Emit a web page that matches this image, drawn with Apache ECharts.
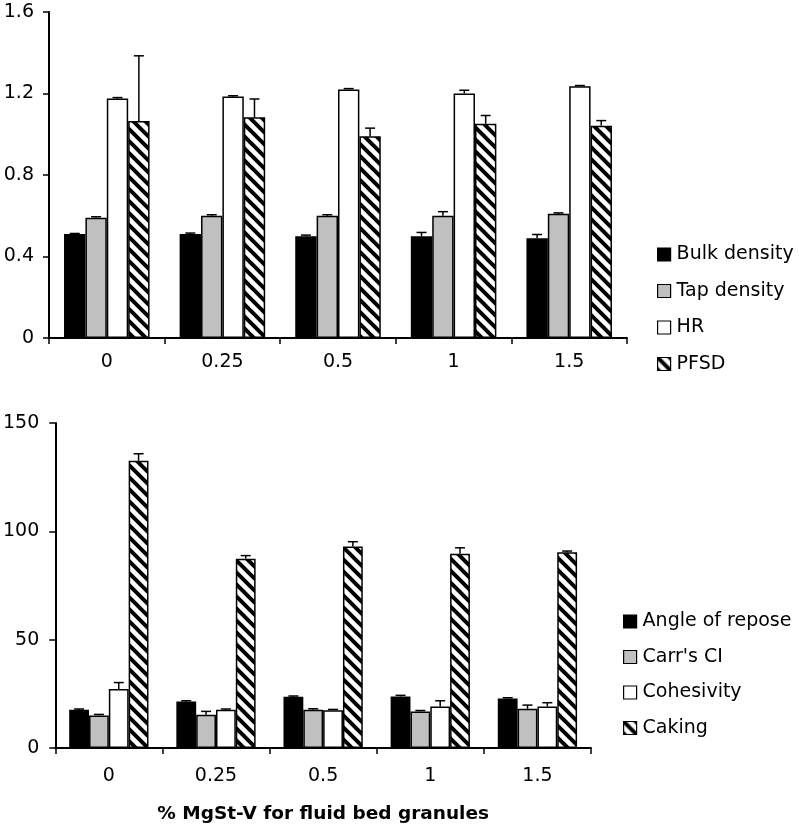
<!DOCTYPE html>
<html>
<head>
<meta charset="utf-8">
<script src="https://cdn.jsdelivr.net/npm/echarts@6/dist/echarts.min.js"></script>
<style>html,body{margin:0;padding:0;background:#fff}#c{width:799px;height:830px}</style>
</head>
<body>
<div id="c"></div>
<script>
// ---- data ----
const categories = ['0', '0.25', '0.5', '1', '1.5'];

const topNames = ['Bulk density', 'Tap density', 'HR', 'PFSD'];
const bulk = [0.51, 0.51, 0.50, 0.50, 0.49];
const bulkErr = [0.003, 0.005, 0.005, 0.018, 0.018];
const tap = [0.59, 0.60, 0.60, 0.60, 0.61];
const tapErr = [0.005, 0.005, 0.005, 0.02, 0.004];
const hr = [1.175, 1.185, 1.22, 1.20, 1.235];
const hrErr = [0.005, 0.004, 0.004, 0.016, 0.004];
const pfsd = [1.065, 1.083, 0.99, 1.052, 1.042];
const pfsdErr = [0.32, 0.09, 0.04, 0.04, 0.025];
const topTicks = {min: 0, max: 1.6, interval: 0.4};

const botNames = ['Angle of repose', "Carr's CI", 'Cohesivity', 'Caking'];
const angle = [17.7, 21.5, 23.7, 23.8, 22.9];
const angleErr = [0.3, 0.3, 0.3, 0.5, 0.3];
const carr = [15.0, 15.4, 17.7, 16.9, 18.1];
const carrErr = [0.5, 1.5, 0.4, 0.4, 1.7];
const coh = [27.2, 17.7, 17.4, 19.2, 19.2];
const cohErr = [3.0, 0.3, 0.4, 2.6, 1.7];
const caking = [132.6, 87.4, 93.0, 89.7, 90.4];
const cakingErr = [3.2, 1.4, 2.2, 2.7, 0.5];
const botTicks = {min: 0, max: 150, interval: 50};

const xTitle = '% MgSt-V for fluid bed granules';

// ---- styling ----
const FONT = 'DejaVu Sans';
const CAT_GAP = 0.26;
function hatch() {
  const c = document.createElement('canvas');
  c.width = 12; c.height = 12;
  const ctx = c.getContext('2d');
  ctx.fillStyle = '#fff'; ctx.fillRect(0, 0, 12, 12);
  ctx.strokeStyle = '#000'; ctx.lineWidth = 4;
  ctx.beginPath();
  for (let k = -2; k <= 2; k++) {
    ctx.moveTo(k * 12 - 4, -4);
    ctx.lineTo(k * 12 + 16, 16);
  }
  ctx.stroke();
  return {image: c, repeat: 'repeat'};
}
const fills = ['#000000', '#c0c0c0', '#ffffff', hatch()];

function barSeries(names, values, gi) {
  return values.map((v, i) => ({
    name: names[i], type: 'bar', xAxisIndex: gi, yAxisIndex: gi,
    data: v, barGap: '0%', barCategoryGap: (CAT_GAP * 100) + '%',
    itemStyle: {color: fills[i], borderColor: '#000', borderWidth: 1.5},
    emphasis: {disabled: true}, z: 2
  }));
}
function errSeries(values, errs, gi) {
  const data = [];
  values.forEach((v, si) => v.forEach((y, ci) => data.push([ci, y, y + errs[si][ci], si])));
  return {
    type: 'custom', xAxisIndex: gi, yAxisIndex: gi, z: 5, silent: true,
    data: data,
    renderItem: function (params, api) {
      const ci = api.value(0), si = api.value(3);
      const base = api.coord([ci, api.value(1)]);
      const top = api.coord([ci, api.value(2)]);
      const cw = api.size([1, 0])[0];
      const bw = cw * (1 - CAT_GAP) / 4;
      const x = base[0] + (si - 1.5) * bw;
      const hw = 5;
      const st = {stroke: '#000', lineWidth: 1.5};
      return {type: 'group', children: [
        {type: 'line', shape: {x1: x, y1: base[1], x2: x, y2: top[1]}, style: st},
        {type: 'line', shape: {x1: x - hw, y1: top[1], x2: x + hw, y2: top[1]}, style: st}
      ]};
    }
  };
}

const axisLine = {show: true, lineStyle: {color: '#000', width: 2}};
const lbl = {color: '#000', fontFamily: FONT, fontSize: 19};

const option = {
  animation: false,
  backgroundColor: '#fff',
  grid: [
    {left: 49, right: 172, top: 12, height: 326},
    {left: 51, right: 208, top: 423, height: 325}
  ],
  xAxis: [
    {type: 'category', gridIndex: 0, data: categories, axisLine: axisLine,
     axisTick: {show: true, length: 6, lineStyle: {color: '#000', width: 1.5}},
     axisLabel: Object.assign({margin: 15}, lbl)},
    {type: 'category', gridIndex: 1, data: categories, axisLine: axisLine,
     axisTick: {show: true, length: 6, lineStyle: {color: '#000', width: 1.5}},
     axisLabel: Object.assign({margin: 19}, lbl),
     name: xTitle, nameLocation: 'middle', nameGap: 57,
     nameTextStyle: {color: '#000', fontFamily: FONT, fontSize: 18.5, fontWeight: 'bold'}}
  ],
  yAxis: [
    Object.assign({type: 'value', gridIndex: 0, axisLine: axisLine,
     axisTick: {show: true, length: 6, lineStyle: {color: '#000', width: 1.5}},
     splitLine: {show: false},
     axisLabel: Object.assign({margin: 15, formatter: v => v === 0 ? '0' : v.toFixed(1)}, lbl)}, topTicks),
    Object.assign({type: 'value', gridIndex: 1, axisLine: axisLine,
     axisTick: {show: true, length: 6, lineStyle: {color: '#000', width: 1.5}},
     splitLine: {show: false},
     axisLabel: Object.assign({margin: 16}, lbl)}, botTicks)
  ],
  legend: [
    {data: topNames, orient: 'vertical', left: 657, top: 245, padding: 0,
     icon: 'rect', itemWidth: 13, itemHeight: 13, itemGap: 17.5,
     itemStyle: {borderColor: '#000', borderWidth: 1.2},
     textStyle: {color: '#000', fontFamily: FONT, fontSize: 19, lineHeight: 19, padding: [0, 0, 0, 1]},
     selectedMode: false},
    {data: botNames, orient: 'vertical', left: 623, top: 612, padding: 0,
     icon: 'rect', itemWidth: 13, itemHeight: 13, itemGap: 16.5,
     itemStyle: {borderColor: '#000', borderWidth: 1.2},
     textStyle: {color: '#000', fontFamily: FONT, fontSize: 19, lineHeight: 19, padding: [0, 0, 0, 1]},
     selectedMode: false}
  ],
  series: [].concat(
    barSeries(topNames, [bulk, tap, hr, pfsd], 0),
    [errSeries([bulk, tap, hr, pfsd], [bulkErr, tapErr, hrErr, pfsdErr], 0)],
    barSeries(botNames, [angle, carr, coh, caking], 1),
    [errSeries([angle, carr, coh, caking], [angleErr, carrErr, cohErr, cakingErr], 1)]
  )
};
const chart = echarts.init(document.getElementById('c'), null, {renderer: 'canvas'});
chart.setOption(option);
</script>
</body>
</html>
